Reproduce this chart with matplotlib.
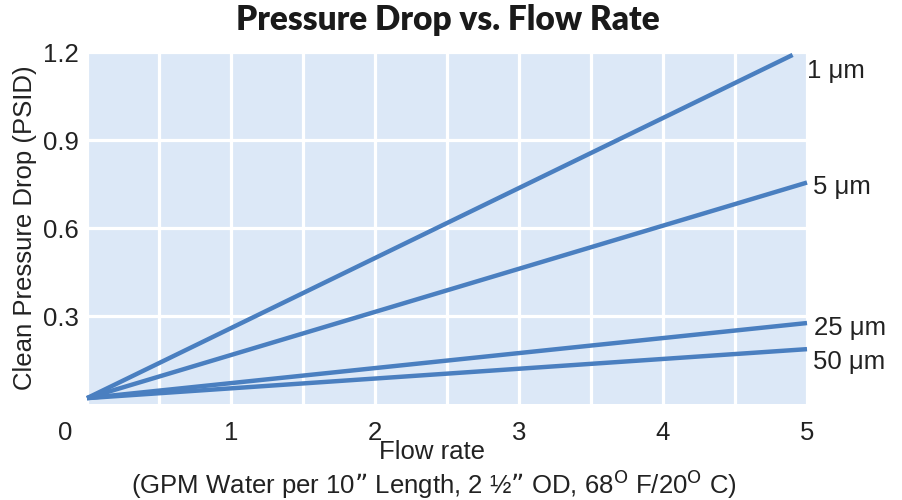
import matplotlib
matplotlib.use("Agg")
import matplotlib.pyplot as plt
import matplotlib.transforms as mtransforms

flow_start = 0.0
flow_end = [4.9, 5.0, 5.0, 5.0]
dp_start = 0.02
dp_end = [1.19, 0.755, 0.276, 0.187]
labels = ["1 \u03bcm", "5 \u03bcm", "25 \u03bcm", "50 \u03bcm"]
label_y = [1.135, 0.74, 0.259, 0.143]
label_x = [5.0, 5.04, 5.05, 5.04]
xticks = [0, 1, 2, 3, 4, 5]
yticks = [0.3, 0.6, 0.9, 1.2]
ytick_labels = ["0.3", "0.6", "0.9", "1.2"]

plt.rcParams['font.family'] = ['Liberation Sans', 'DejaVu Sans']

fig = plt.figure(figsize=(9.02, 5.0), dpi=100)
ax = fig.add_axes([87/902, 1-404/500, (807-87)/902, (404-52)/500])
ax.set_facecolor('#dce8f7')
ax.set_xlim(0, 5)
ax.set_ylim(0, 1.2)
for s in ax.spines.values():
    s.set_visible(False)

ax.set_xticks([i*0.5 for i in range(1, 10)], minor=True)
ax.set_xticks(xticks)
ax.set_xticklabels([str(v) for v in xticks])
ax.set_yticks(yticks)
ax.set_yticklabels(ytick_labels)
ax.grid(True, which='both', axis='x', color='white', linewidth=2.3)
ax.grid(True, which='major', axis='y', color='white', linewidth=2.3)
ax.set_axisbelow(True)
ax.tick_params(which='both', length=0)
ax.tick_params(axis='x', pad=12, labelsize=18.5, colors='#222222')
ax.tick_params(axis='y', pad=6, labelsize=18.5, colors='#222222')

lbl0 = ax.get_xticklabels()[0]
lbl0.set_transform(lbl0.get_transform() + mtransforms.ScaledTranslation(-22/100, 0, fig.dpi_scale_trans))

color = '#4a7fc0'
for xe, ye, lab, lx, ly in zip(flow_end, dp_end, labels, label_x, label_y):
    ax.plot([flow_start, xe], [dp_start, ye], color=color, linewidth=3.2,
            solid_capstyle='butt', clip_on=False)
    ax.text(lx, ly, lab, fontsize=18.5, color='#222222', va='center', ha='left', clip_on=False)

fig.text(448/902, 1-20/500, "Pressure Drop vs. Flow Rate", fontsize=24, fontweight='heavy',
         family=['Lato', 'DejaVu Sans'], ha='center', va='center', color='#1a1a1a')
fig.text(25/902, 1-228/500, "Clean Pressure Drop (PSID)", fontsize=18.5, rotation=90,
         ha='center', va='center', color='#222222')
fig.text(432/902, 1-452/500, "Flow rate", fontsize=18.5, ha='center', va='center', color='#222222')
fig.text(434/902, 1-484/500, "(GPM Water per 10\u201d Length, 2 \u00bd\u201d OD, 68$^{\\mathrm{O}}$ F/20$^{\\mathrm{O}}$ C)",
         fontsize=18.5, ha='center', va='center', color='#222222')

fig.savefig("out.png", dpi=100)
